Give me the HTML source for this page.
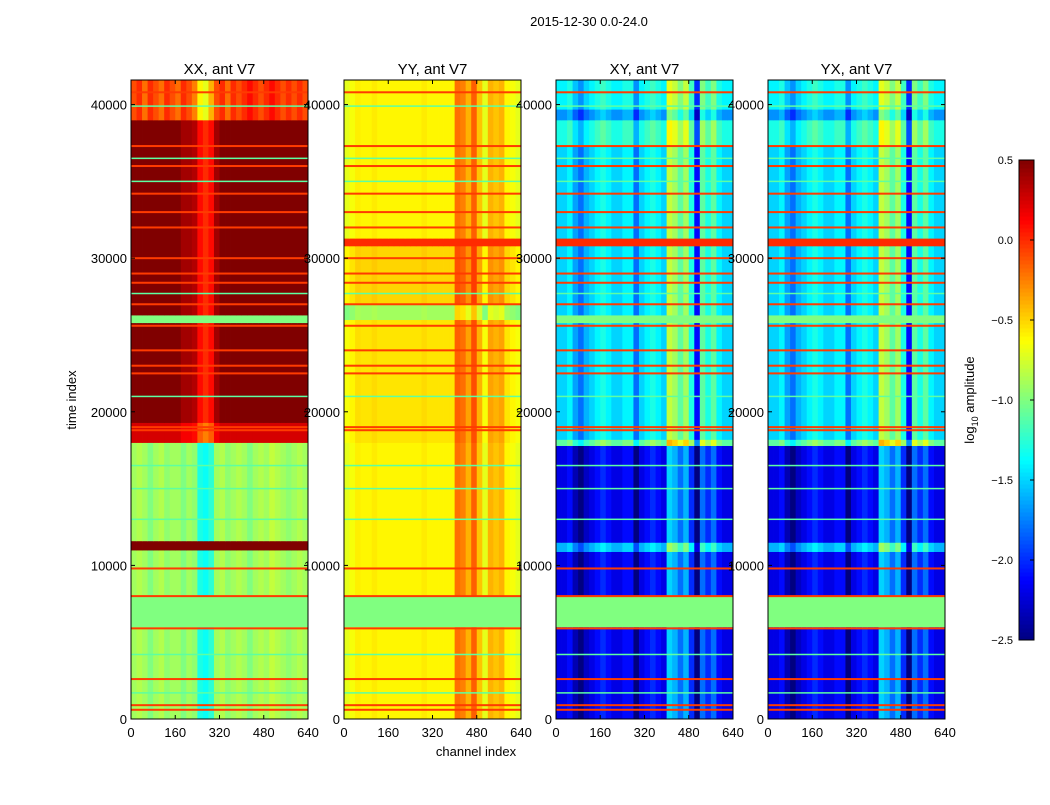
<!DOCTYPE html>
<html><head><meta charset="utf-8"><style>
body{margin:0;background:#fff;}
svg text{font-family:"Liberation Sans",sans-serif;}
</style></head><body>
<svg id="fig" width="1050" height="800" xmlns="http://www.w3.org/2000/svg">
<rect width="1050" height="800" fill="#fff"/>
<text x="589" y="26" font-size="13" text-anchor="middle">2015-12-30 0.0-24.0</text>
<text x="476" y="756" font-size="13" text-anchor="middle">channel index</text>
<text x="76" y="400" font-size="13" text-anchor="middle" transform="rotate(-90 76 400)">time index</text>
<g id="panels"></g>
<g id="cbar"></g>
</svg>
<script>
// ---- data ----
const panelTitles = ["XX, ant V7","YY, ant V7","XY, ant V7","YX, ant V7"];
const xTicks = [0,160,320,480,640];
const yTicks = [0,10000,20000,30000,40000];
const cbTicks = [0.5,0.0,-0.5,-1.0,-1.5,-2.0,-2.5];
const cbLabels = ["0.5","0.0","\u22120.5","\u22121.0","\u22121.5","\u22122.0","\u22122.5"];
// column profiles (32 columns of 20 channels)
const xxLower = [0,0.05,0,-0.1,0,0.05,-0.05,0,0,-0.1,0,-0.05,-0.4,-0.45,-0.35,0,0.05,-0.05,0,0.05,0,-0.1,0,0.05,0,0.1,0.05,0,-0.05,0,0.05,0];
const xxUpper = [0,0,0,0,0,0,0,0,0,-0.1,-0.1,-0.15,-0.4,-0.5,-0.4,-0.1,0,0,0,0,0,0,0,0,0,0,0,0,0,0,0,0];
const xxTop = [0,0.1,-0.1,0.1,0,-0.1,0.1,0,-0.1,0.1,0,-0.15,-0.5,-0.6,-0.3,0,0.1,-0.1,0.1,0,0.1,0.2,0.1,0,0.1,0.2,0.1,0,0.1,0,0.1,0];
const yyProf = [-0.1,-0.05,0.02,0,0,0.03,0,0,0,0,0,0,0,0,0.03,0,0,0,0,0,0.4,0.35,0.2,0.45,0.15,-0.1,0.2,0.15,0.2,0,-0.05,-0.1];
const xyProf = [0,0,0.1,-0.15,-0.3,-0.1,0,0.1,0.2,0.1,0,0,0.1,0.1,-0.3,0,0.1,0.2,0.1,0,0.7,0.6,0.4,0.6,0.2,-0.6,0.4,0.2,0.4,0.1,0,0];
const flat = new Array(32).fill(0);
// time bands: starts, levels, profile ids
const xxStarts=[0,6000,8000,11000,11600,18000,19300,25800,26300,39000,40000];
const xxLevels=[-0.9,-1.0,-0.9,0.5,-0.9,0.25,0.5,-1.0,0.5,-0.1,-0.1];
const xxProfs=[0,2,0,2,0,1,1,2,1,3,3];
const yyStarts=[0,6000,8000,18000,26000,27000,30800,31300,37200];
const yyLevels=[-0.6,-1.0,-0.6,-0.55,-0.9,-0.5,0.0,-0.6,-0.6];
const yyProfs=[0,2,0,0,0,0,2,0,0];
const xyStarts=[0,6000,8000,10900,11500,17800,18200,25800,26300,30800,31300,37300,39000,39700];
const xyLevels=[-2.2,-1.0,-2.2,-1.6,-2.2,-1.1,-1.5,-1.0,-1.5,0.0,-1.5,-1.3,-1.7,-1.4];
const xyProfs=[0,2,0,0,0,0,0,2,0,2,0,0,0,0];
// horizontal line artifacts: times and values
const redLines=[600,900,2600,5900,8000,9800,18800,19000,22500,23000,24000,25600,27000,28400,29000,30000,32000,33000,34200,36000,37300,40800];
const redVals=[-0.05,-0.05,-0.05,-0.05,-0.05,-0.05,-0.05,-0.05,-0.05,-0.05,-0.05,-0.05,-0.05,-0.05,-0.05,-0.05,-0.05,-0.05,-0.05,-0.05,-0.05,-0.05];
const greenLines=[1700,4200,13000,15000,16500,21000,27700,35000,36500,39900];
const greenVals=[-1.1,-1.1,-1.1,-1.1,-1.1,-1.1,-1.1,-1.1,-1.1,-1.1];
// ---- layout ----
const panelX=[131,344,556,768], PW=177, PT=80, PB=719, TMAX=41600;
const NS="http://www.w3.org/2000/svg";
function jet(v){let x=(v+2.5)/3;x=Math.max(0,Math.min(1,x));
 const c=t=>Math.round(255*Math.max(0,Math.min(1,1.5-Math.abs(4*x-t))));
 return `rgb(${c(3)},${c(2)},${c(1)})`;}
function mk(tag,a,p){const e=document.createElementNS(NS,tag);for(const k in a)e.setAttribute(k,a[k]);p.appendChild(e);return e;}
const yS=t=>PB-t/TMAX*(PB-PT);
const panelsData=[
 {starts:xxStarts,levels:xxLevels,profs:xxProfs,P:[xxLower,xxUpper,flat,xxTop]},
 {starts:yyStarts,levels:yyLevels,profs:yyProfs,P:[yyProf,yyProf,flat]},
 {starts:xyStarts,levels:xyLevels,profs:xyProfs,P:[xyProf,xyProf,flat]},
 {starts:xyStarts,levels:xyLevels,profs:xyProfs,P:[xyProf,xyProf,flat]}];
const root=document.getElementById('panels');
panelsData.forEach((pd,pi)=>{
 const x0=panelX[pi], xS=ch=>x0+ch/640*PW;
 const g=mk('g',{},root);
 
 
 for(let b=0;b<pd.starts.length;b++){
  const t0=pd.starts[b], t1=b+1<pd.starts.length?pd.starts[b+1]:TMAX;
  const prof=pd.P[pd.profs[b]];
  for(let c=0;c<32;c++){
   const r=mk('rect',{x:xS(c*20),y:yS(t1),width:xS(c*20+20)-xS(c*20)+0.4,height:yS(t0)-yS(t1)+0.4,fill:jet(pd.levels[b]+prof[c])},g);
   
   
  }
 }
 redLines.forEach((t,i)=>{const l=mk('rect',{x:x0,y:yS(t)-1,width:PW,height:2,fill:jet(redVals[i])},g);
  
  });
 greenLines.forEach((t,i)=>{const l=mk('rect',{x:x0,y:yS(t)-0.75,width:PW,height:1.5,fill:jet(greenVals[i])},g);
  
  });
 mk('rect',{x:x0,y:PT,width:PW,height:PB-PT,fill:'none',stroke:'#000','stroke-width':1},g);
 const tt=mk('text',{x:x0+PW/2,y:74,'font-size':15,'text-anchor':'middle'},g);tt.textContent=panelTitles[pi];
 
 
 xTicks.forEach(v=>{const x=xS(v);mk('line',{x1:x,x2:x,y1:PB,y2:PB-4,stroke:'#000'},g);mk('line',{x1:x,x2:x,y1:PT,y2:PT+4,stroke:'#000'},g);
  const t=mk('text',{x:x,y:737,'font-size':13,'text-anchor':'middle'},g);t.textContent=v;
  
  });
 yTicks.forEach(v=>{const y=yS(v);mk('line',{x1:x0,x2:x0+4,y1:y,y2:y,stroke:'#000'},g);mk('line',{x1:x0+PW,x2:x0+PW-4,y1:y,y2:y,stroke:'#000'},g);
  const t=mk('text',{x:x0-4,y:y+5,'font-size':13,'text-anchor':'end'},g);t.textContent=v;
  
  });
});
// colorbar
const cb=document.getElementById('cbar');
const CBX=1019,CBW=15,CBT=160,CBB=640;
const cy=v=>CBB-(v+2.5)/3*(CBB-CBT);
for(let i=0;i<120;i++){const v0=-2.5+i*3/120;
 const r=mk('rect',{x:CBX,y:cy(v0+3/120),width:CBW,height:(CBB-CBT)/120+0.5,fill:jet(v0+1.5/120)},cb);
 
 }
mk('rect',{x:CBX,y:CBT,width:CBW,height:CBB-CBT,fill:'none',stroke:'#000'},cb);
cbTicks.forEach((v,i)=>{const y=cy(v);mk('line',{x1:CBX+CBW-4,x2:CBX+CBW,y1:y,y2:y,stroke:'#000'},cb);
 const t=mk('text',{x:1013,y:y+4,'font-size':11,'text-anchor':'end'},cb);t.textContent=cbLabels[i];
 
 });
const lab=mk('text',{x:974,y:400,'font-size':13,'text-anchor':'middle',transform:'rotate(-90 974 400)'},cb);
lab.innerHTML='log<tspan font-size="9" dy="4">10</tspan><tspan dy="-4"> amplitude</tspan>';


</script>
</body></html>
